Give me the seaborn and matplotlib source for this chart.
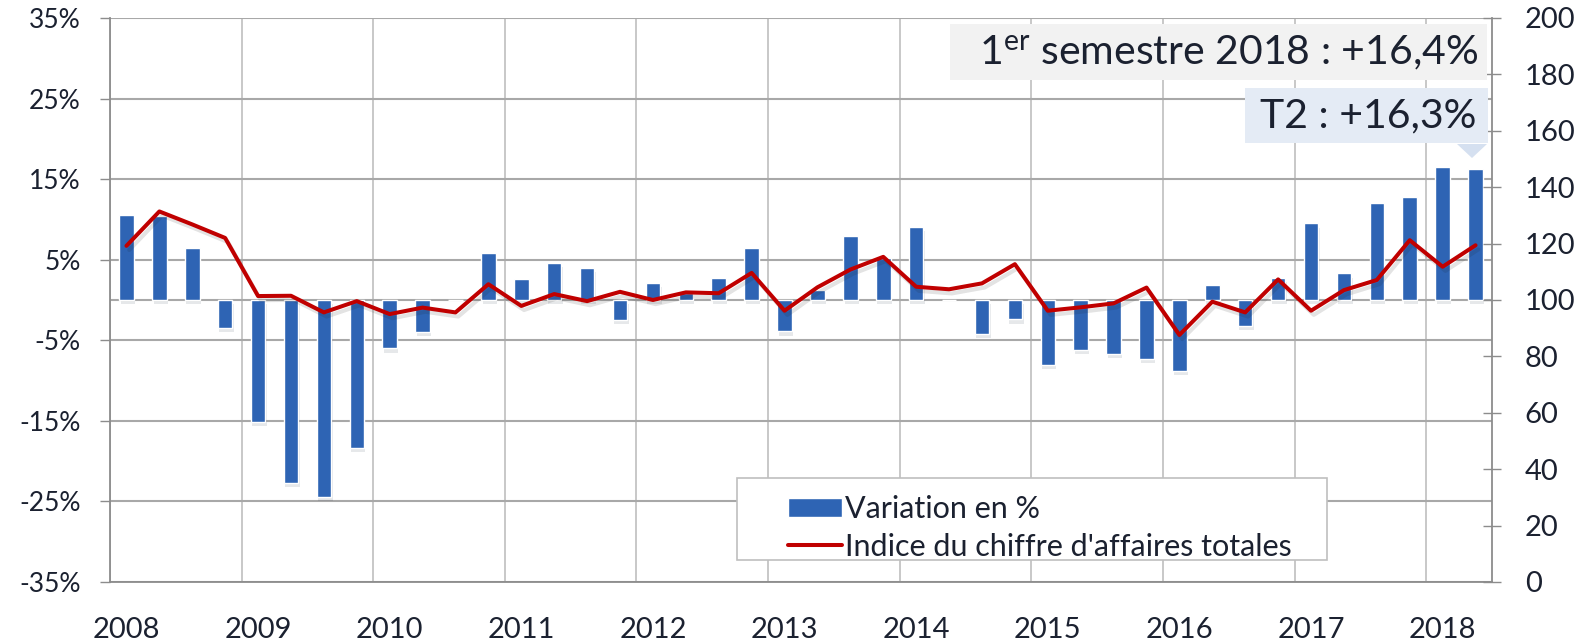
import matplotlib
matplotlib.use("Agg")
import matplotlib.pyplot as plt
import matplotlib.patheffects as pe
from matplotlib.patches import Rectangle, Polygon
import numpy as np
import pandas as pd
import seaborn as sns

# donnees trimestrielles 2008T1 - 2018T2
years = list(range(2008, 2019))
quarters = [f"{y}T{q}" for y in years for q in range(1, 5)][:42]

variation = [10.5, 10.4, 6.5, -3.5,
             -15.1, -22.7, -24.4, -18.4,
             -6.0, -4.0, 0.0, 5.8,
             2.6, 4.6, 4.0, -2.5,
             2.1, 0.9, 2.7, 6.5,
             -3.9, 1.2, 7.9, 5.2,
             9.1, 0.0, -4.2, -2.4,
             -8.1, -6.2, -6.7, -7.3,
             -8.8, 1.8, -3.2, 2.7,
             9.5, 3.3, 12.0, 12.8,
             16.5, 16.3]

indice = [119.2, 131.4, 126.8, 122.0,
          101.4, 101.5, 95.6, 99.6,
          95.0, 97.3, 95.6, 105.6,
          97.9, 102.1, 99.6, 102.9,
          100.0, 102.7, 102.4, 109.6,
          96.2, 104.5, 110.8, 115.3,
          104.7, 103.8, 105.9, 112.7,
          96.2, 97.4, 98.8, 104.4,
          87.6, 99.4, 95.6, 107.3,
          96.2, 103.5, 107.1, 121.2,
          111.8, 119.4]

year_labels = [str(y) for y in years]
left_ticks = list(range(-35, 36, 10))
right_ticks = list(range(0, 201, 20))
legend_labels = ["Variation en %", "Indice du chiffre d'affaires totales"]
note_semestre = "1$^{\\mathregular{er}}$ semestre 2018 : +16,4%"
note_t2 = "T2 : +16,3%"

df = pd.DataFrame({"trimestre": quarters, "variation": variation, "indice": indice})
df["pos"] = np.arange(len(df))

sns.set_theme(style="white")
plt.rcParams["font.family"] = ["Lato", "DejaVu Sans"]
plt.rcParams["mathtext.default"] = "regular"

W, H = 1579, 642
bar_col = "#2E64B4"
line_col = "#C00000"
txt_col = "#1B2130"
grid_col = "#A8A8A8"
spine_col = "#8C8C8C"

fig = plt.figure(figsize=(W / 100, H / 100), dpi=100)
ax = fig.add_axes([110 / W, 1 - 582 / H, (1492 - 110) / W, (582 - 18) / H])

sns.barplot(data=df, x="pos", y="variation", native_scale=True, color=bar_col,
            saturation=1, width=0.44, ax=ax, zorder=2)
for p in ax.patches:
    p.set_path_effects([pe.SimplePatchShadow(offset=(1, -3), alpha=0.1), pe.Normal()])

ax.set_xlim(-0.5, 41.5)
ax.set_ylim(-35, 35)
ax.set_yticks(left_ticks)
ax.set_yticklabels([f"{v}%" for v in left_ticks])
ax.set_xticks(np.arange(0, 42, 4))
ax.set_xticklabels(year_labels)
ax.set_xticks(np.arange(-0.5, 42, 4), minor=True)
ax.set_axisbelow(True)
ax.grid(which="minor", axis="x", color="#C4C4C4", lw=1.3)
ax.grid(which="major", axis="y", color=grid_col, lw=1.5)
ax.grid(which="major", axis="x", visible=False)
ax.axhline(0, color=grid_col, lw=1.5, zorder=1)
ax.set_xlabel("")
ax.set_ylabel("")
ax.tick_params(axis="y", length=7, width=1, color=spine_col, pad=14,
               labelsize=19, labelcolor=txt_col, left=True)
ax.tick_params(axis="x", which="both", length=0, pad=25,
               labelsize=21, labelcolor=txt_col)
for side in ["left", "bottom"]:
    ax.spines[side].set_color(spine_col)
    ax.spines[side].set_linewidth(1.3)
ax.spines["top"].set_visible(False)
ax.spines["right"].set_visible(False)

ax2 = ax.twinx()
sns.lineplot(data=df, x="pos", y="indice", ax=ax2, color=line_col, lw=2.9,
             path_effects=[pe.SimpleLineShadow(offset=(2, -3), alpha=0.12), pe.Normal()])
ax2.set_ylim(0, 200)
ax2.set_yticks(right_ticks)
ax2.set_ylabel("")
ax2.set_xlabel("")
ax2.tick_params(axis="y", direction="inout", length=13, width=1, color=spine_col, pad=17,
                labelsize=21, labelcolor=txt_col, right=True)
ax2.spines["right"].set_color(spine_col)
ax2.spines["right"].set_linewidth(1.3)
for side in ["top", "left", "bottom"]:
    ax2.spines[side].set_visible(False)
ax2.grid(False)

# encadre de la legende
ax2.add_patch(Rectangle((737 / W, 1 - 560 / H), 590 / W, 82 / H, transform=fig.transFigure,
                        facecolor="white", edgecolor="#BFBFBF", lw=1.2, zorder=4, clip_on=False))
handles = [Rectangle((0, 0), 1, 1, facecolor=bar_col),
           plt.Line2D([], [], color=line_col, lw=2.9)]
ax2.legend(handles, legend_labels, loc="upper left", bbox_to_anchor=(770 / W, 1 - 477 / H),
           bbox_transform=fig.transFigure, frameon=False, fontsize=22,
           handlelength=1.75, handleheight=0.55, handletextpad=0.12, labelspacing=0.3,
           borderpad=0.1, labelcolor=txt_col)

# encadres des valeurs 2018
ax2.add_patch(Rectangle((950 / W, 1 - 80 / H), 537 / W, 56 / H, transform=fig.transFigure,
                        facecolor="#F2F2F2", edgecolor="none", zorder=4, clip_on=False))
ax2.add_patch(Rectangle((1245 / W, 1 - 143 / H), 243 / W, 55 / H, transform=fig.transFigure,
                        facecolor="#E4EBF5", edgecolor="none", zorder=4, clip_on=False))
ax2.add_patch(Polygon([(1457 / W, 1 - 144 / H), (1487 / W, 1 - 144 / H), (1472 / W, 1 - 158 / H)],
                      closed=True, transform=fig.transFigure, facecolor="#D5E0F0",
                      edgecolor="none", zorder=4, clip_on=False))
fig.text(1478 / W, 1 - 53 / H, note_semestre, ha="right", va="center", fontsize=29.5,
         color=txt_col, zorder=6)
fig.text(1476 / W, 1 - 116 / H, note_t2, ha="right", va="center", fontsize=29.5,
         color=txt_col, zorder=6)

fig.savefig("out.png", dpi=100)
